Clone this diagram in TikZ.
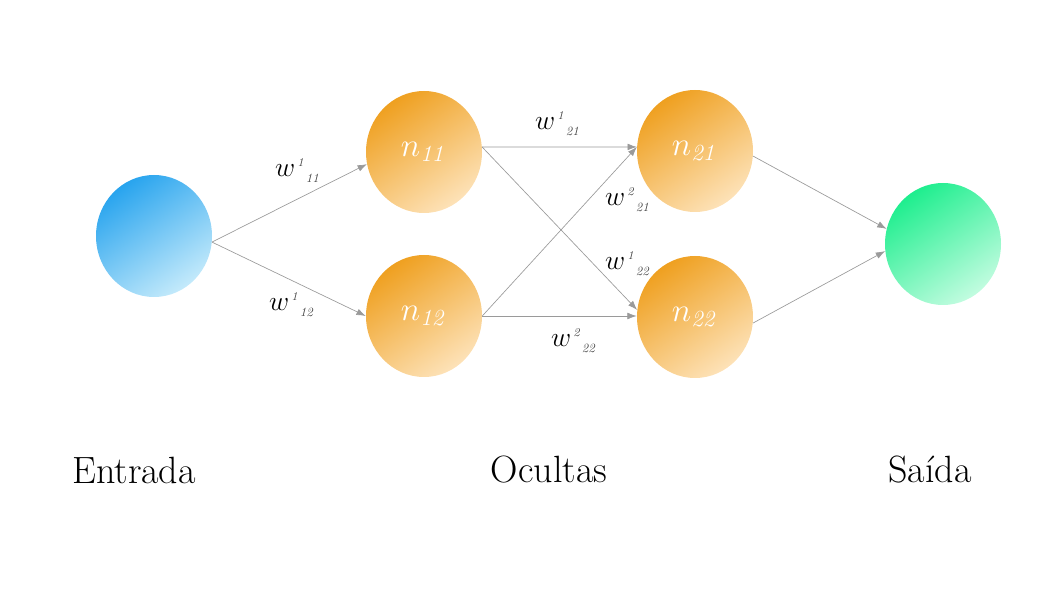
\documentclass[tikz,border=0pt]{standalone}
\usetikzlibrary{shapes.geometric,arrows.meta}
\definecolor{orgA}{HTML}{EFA020}
\definecolor{orgB}{HTML}{FDE2B8}
\definecolor{bluA}{HTML}{28A4EE}
\definecolor{bluB}{HTML}{C4EAFB}
\definecolor{grnA}{HTML}{1EEE8E}
\definecolor{grnB}{HTML}{C2FCE0}
\definecolor{edgegray}{HTML}{9A9A9A}
\definecolor{digitgray}{HTML}{444444}
\newcommand{\wlab}[2]{{\fontsize{21}{22}\selectfont$w$}\,\raisebox{7pt}{\fontsize{9}{10}\selectfont\itshape\color{digitgray}#1}\,\raisebox{-5pt}{\fontsize{9.5}{10}\selectfont\itshape\color{digitgray}#2}}
\newcommand{\nlab}[1]{\fontsize{24}{26}\selectfont$n_{\mathit{#1}}$}
\begin{document}
\begin{tikzpicture}[x=0.75pt,y=0.75pt,
  neuron/.style={ellipse,draw=none,minimum width=87pt,minimum height=91.5pt,inner sep=0pt,text=white},
  orangeN/.style={neuron,top color=orgA,bottom color=orgB,shading angle=35},
  blueN/.style={neuron,top color=bluA,bottom color=bluB,shading angle=35},
  greenN/.style={neuron,top color=grnA,bottom color=grnB,shading angle=35},
  conn/.style={draw=edgegray,line width=0.5pt,-{Latex[length=7pt,width=5pt]}},
  wl/.style={inner sep=0pt,text=black},
  title/.style={font=\fontsize{28.5}{32}\selectfont}]
\useasboundingbox (0,0) rectangle (1058,-595);
\node[blueN] (in) at (154,-236) {};
\node[orangeN] (n11) at (424,-152) {\nlab{11}};
\node[orangeN] (n12) at (424,-316) {\nlab{12}};
\node[orangeN] (n21) at (695,-151) {\nlab{21}};
\node[orangeN] (n22) at (695,-317) {\nlab{22}};
\node[greenN] (out) at (943,-244) {};
\draw[conn] (in.-6) -- (n11.192);
\draw[conn] (in.-6) -- (n12.west);
\draw[conn] (n11.5) -- (n21.176);
\draw[conn] (n11.5) -- (n22.173);
\draw[conn] (n12.east) -- (n21.176);
\draw[conn] (n12.east) -- (n12.east -| n22.west);
\draw[conn] (n21.-5) -- (out.165);
\draw[conn] (n22.-6) -- (out.187);
\node[wl] (l1) at (297,-171) {\wlab{1}{11}};
\node[wl] (l2) at (291,-305) {\wlab{1}{12}};
\node[wl] (l3) at (557,-124) {\wlab{1}{21}};
\node[wl] (l4) at (627,-200) {\wlab{2}{21}};
\node[wl] (l5) at (627,-264) {\wlab{1}{22}};
\node[wl] (l6) at (573,-341) {\wlab{2}{22}};
\node[title] (t1) at (134,-470) {Entrada};
\node[title] (t2) at (549,-470) {Ocultas};
\node[title] (t3) at (930,-470) {Saída};
\end{tikzpicture}
\end{document}
